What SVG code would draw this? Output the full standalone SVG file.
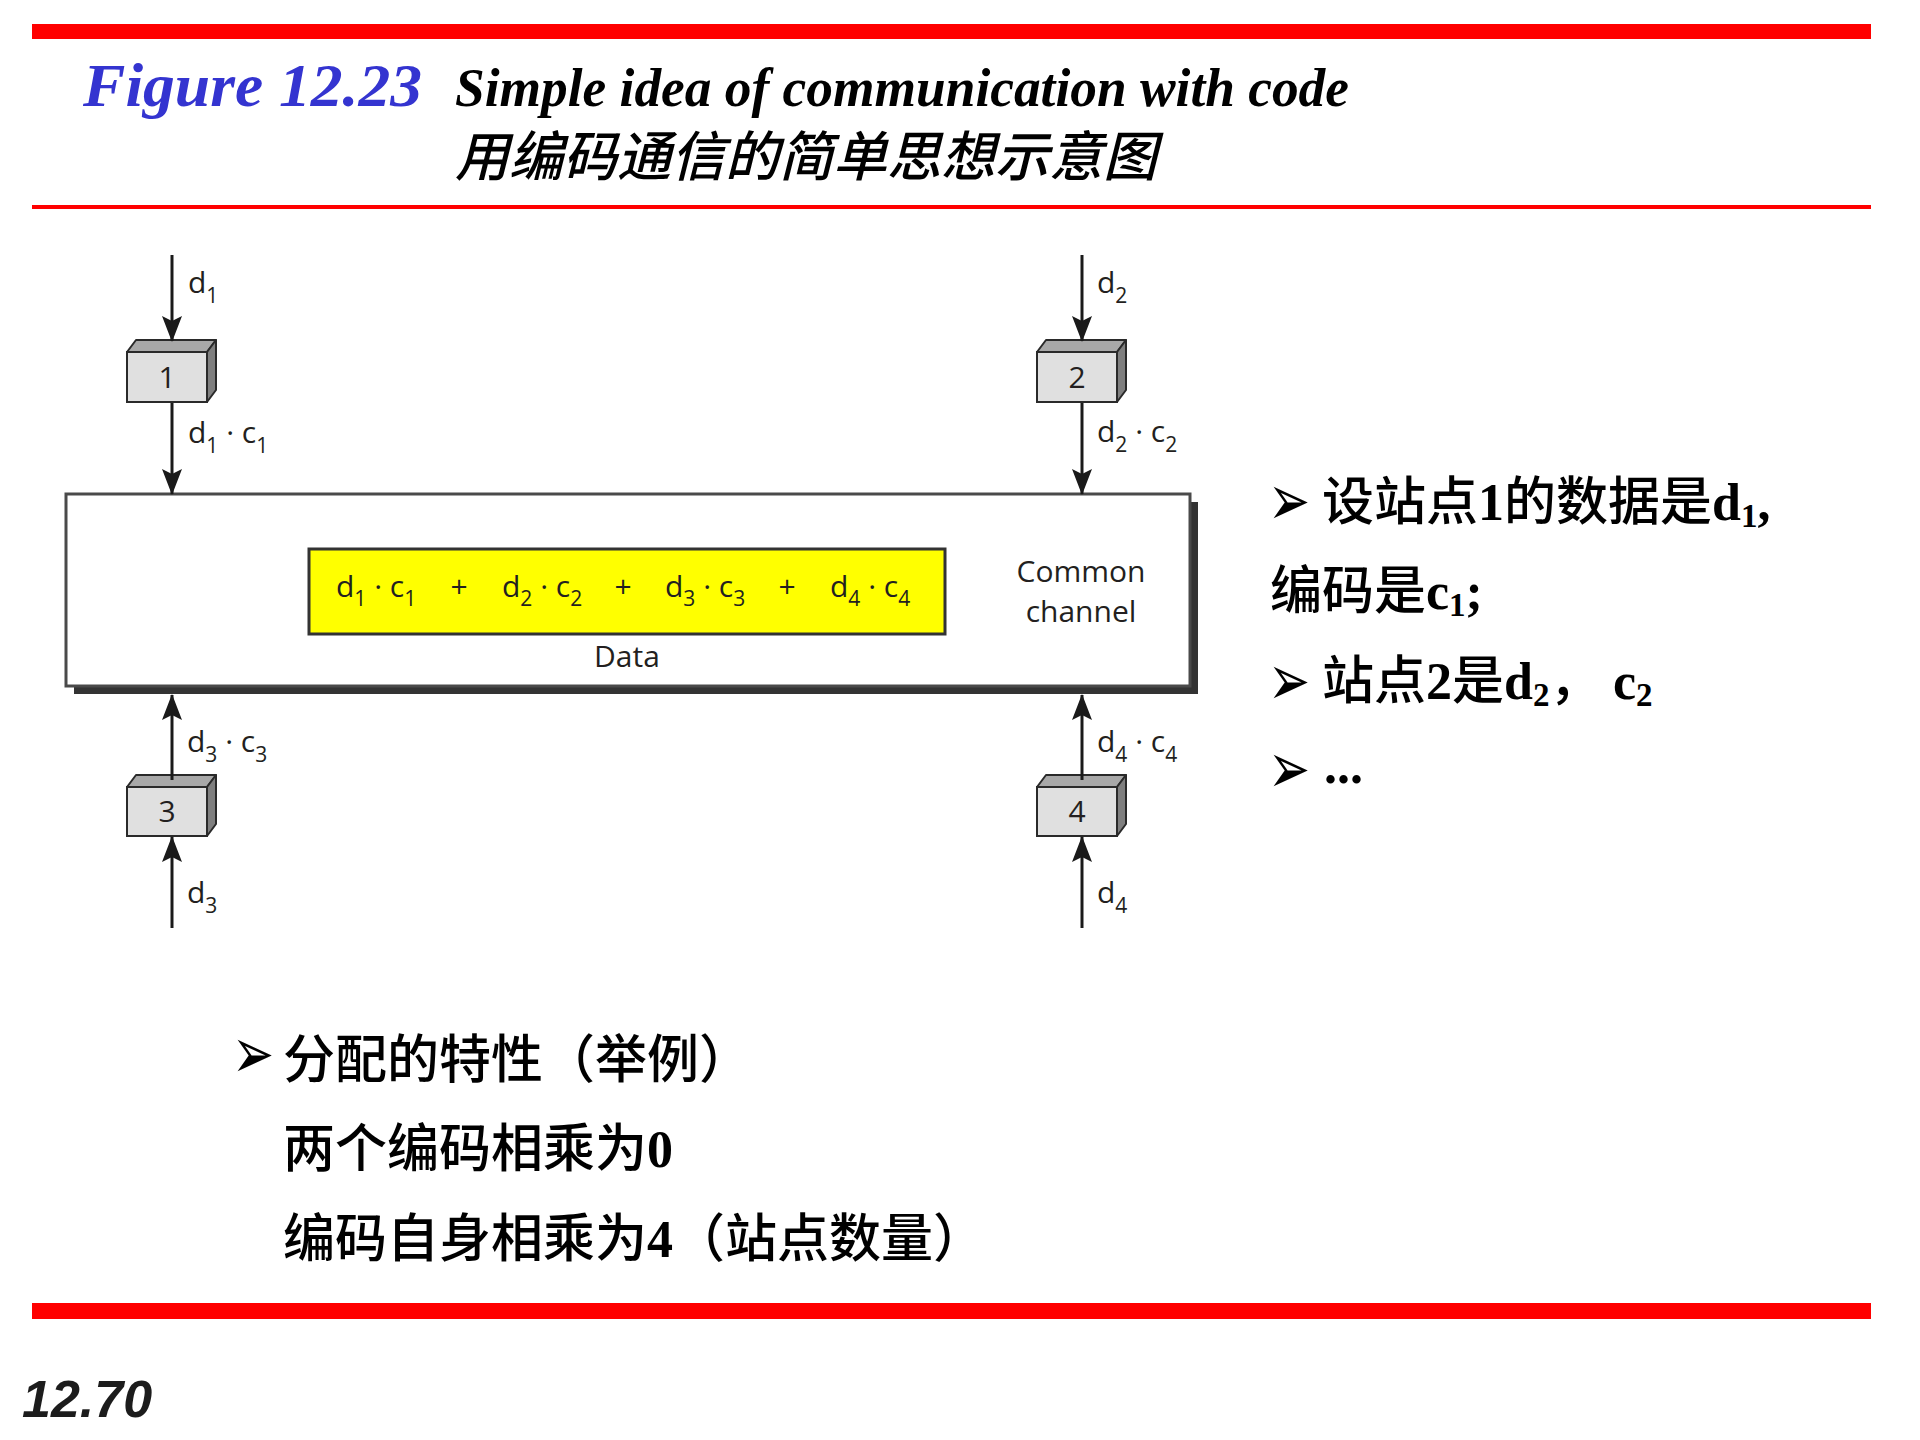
<svg xmlns="http://www.w3.org/2000/svg" width="1920" height="1440" viewBox="0 0 1920 1440">
  <style>
    .rule { fill: #ff0000; }
    .fig { font-family: "Liberation Serif", serif; font-weight: bold; font-style: italic; }
    .cap { font-family: "Noto Sans CJK SC", sans-serif; font-style: italic; font-weight: 500; }
    .lbl { font-family: "Open Sans", "DejaVu Sans", sans-serif; font-size: 30px; fill: #231f20; }
    .sub { font-size: 21px; }
    .num { font-family: "Open Sans", "DejaVu Sans", sans-serif; font-size: 30px; fill: #231f20; text-anchor: middle; }
    .front { fill: #e0e0e0; stroke: #2a2a2a; stroke-width: 2; }
    .top { fill: #a8a8a8; stroke: #2a2a2a; stroke-width: 2; stroke-linejoin: round; }
    .side { fill: #7f7f7f; stroke: #2a2a2a; stroke-width: 2; stroke-linejoin: round; }
    .wire { stroke: #1a1a1a; stroke-width: 3; fill: none; marker-end: url(#arr); }
    .zh { font-family: "Noto Sans CJK SC", sans-serif; font-size: 52px; font-weight: 500; fill: #000; }
    .lat { font-family: "Liberation Serif", serif; font-weight: bold; }
    .zsub { font-size: 33px; }
    .bul { font-family: "DejaVu Sans", sans-serif; font-size: 48px; fill: #000; }
  </style>
  <defs>
    <marker id="arr" markerUnits="userSpaceOnUse" markerWidth="26" markerHeight="22" viewBox="0 0 26 22" refX="25" refY="11" orient="auto">
      <path d="M0,1 L26,11 L0,21 L5,11 z" fill="#1a1a1a"/>
    </marker>
  </defs>

  <rect width="1920" height="1440" fill="#ffffff"/>

  <!-- header rules and caption -->
  <rect class="rule" x="32" y="24" width="1839" height="15"/>
  <rect class="rule" x="32" y="205" width="1839" height="4"/>
  <text class="fig" x="83" y="106" font-size="62" fill="#3434d0" textLength="339" lengthAdjust="spacingAndGlyphs">Figure 12.23</text>
  <text class="fig" x="455" y="106" font-size="54" fill="#000" textLength="894" lengthAdjust="spacingAndGlyphs">Simple idea of communication with code</text>
  <text class="cap" x="455" y="176" font-size="54" fill="#000">用编码通信的简单思想示意图</text>

  <!-- common channel -->
  <g id="channel">
    <rect x="74" y="502" width="1124" height="192" fill="#333333"/>
    <rect x="66" y="494" width="1124" height="192" fill="#ffffff" stroke="#4a4a4a" stroke-width="3"/>
    <rect x="309" y="549" width="636" height="85" fill="#ffff00" stroke="#333333" stroke-width="3"/>
    <text class="lbl" y="597">
      <tspan x="336">d</tspan><tspan class="sub" dy="9">1</tspan><tspan dy="-9"> · c</tspan><tspan class="sub" dy="9">1</tspan>
    </text>
    <text class="lbl" y="597">
      <tspan x="502">d</tspan><tspan class="sub" dy="9">2</tspan><tspan dy="-9"> · c</tspan><tspan class="sub" dy="9">2</tspan>
    </text>
    <text class="lbl" y="597">
      <tspan x="665">d</tspan><tspan class="sub" dy="9">3</tspan><tspan dy="-9"> · c</tspan><tspan class="sub" dy="9">3</tspan>
    </text>
    <text class="lbl" y="597">
      <tspan x="830">d</tspan><tspan class="sub" dy="9">4</tspan><tspan dy="-9"> · c</tspan><tspan class="sub" dy="9">4</tspan>
    </text>
    <text class="lbl" x="459" y="597" text-anchor="middle">+</text>
    <text class="lbl" x="623" y="597" text-anchor="middle">+</text>
    <text class="lbl" x="787" y="597" text-anchor="middle">+</text>
    <text class="lbl" x="627" y="667" text-anchor="middle">Data</text>
    <text class="lbl" text-anchor="middle"><tspan x="1081" y="582">Common</tspan><tspan x="1081" y="622">channel</tspan></text>
  </g>

  <!-- stations -->
  <g id="station1">
    <polygon class="top" points="127,352 136,340 216,340 207,352"/>
    <polygon class="side" points="207,352 216,340 216,390 207,402"/>
    <rect class="front" x="127" y="352" width="80" height="50"/>
    <text class="num" x="167" y="388">1</text>
  </g>
  <g id="station2">
    <polygon class="top" points="1037,352 1046,340 1126,340 1117,352"/>
    <polygon class="side" points="1117,352 1126,340 1126,390 1117,402"/>
    <rect class="front" x="1037" y="352" width="80" height="50"/>
    <text class="num" x="1077" y="388">2</text>
  </g>
  <g id="station3">
    <polygon class="top" points="127,787 136,775 216,775 207,787"/>
    <polygon class="side" points="207,787 216,775 216,824 207,836"/>
    <rect class="front" x="127" y="787" width="80" height="49"/>
    <text class="num" x="167" y="822">3</text>
  </g>
  <g id="station4">
    <polygon class="top" points="1037,787 1046,775 1126,775 1117,787"/>
    <polygon class="side" points="1117,787 1126,775 1126,824 1117,836"/>
    <rect class="front" x="1037" y="787" width="80" height="49"/>
    <text class="num" x="1077" y="822">4</text>
  </g>

  <!-- connectors -->
  <g id="connectors">
    <path class="wire" d="M172,255 V341"/>
    <path class="wire" d="M172,403 V494"/>
    <path class="wire" d="M1082,255 V341"/>
    <path class="wire" d="M1082,403 V494"/>
    <path class="wire" d="M172,780 V695"/>
    <path class="wire" d="M172,928 V837"/>
    <path class="wire" d="M1082,780 V695"/>
    <path class="wire" d="M1082,928 V837"/>
  </g>

  <!-- connector labels -->
  <g id="labels">
    <text class="lbl" y="293"><tspan x="188">d</tspan><tspan class="sub" dy="10">1</tspan></text>
    <text class="lbl" y="443"><tspan x="188">d</tspan><tspan class="sub" dy="10">1</tspan><tspan dy="-10"> · c</tspan><tspan class="sub" dy="10">1</tspan></text>
    <text class="lbl" y="293"><tspan x="1097">d</tspan><tspan class="sub" dy="10">2</tspan></text>
    <text class="lbl" y="442"><tspan x="1097">d</tspan><tspan class="sub" dy="10">2</tspan><tspan dy="-10"> · c</tspan><tspan class="sub" dy="10">2</tspan></text>
    <text class="lbl" y="752"><tspan x="187">d</tspan><tspan class="sub" dy="10">3</tspan><tspan dy="-10"> · c</tspan><tspan class="sub" dy="10">3</tspan></text>
    <text class="lbl" y="903"><tspan x="187">d</tspan><tspan class="sub" dy="10">3</tspan></text>
    <text class="lbl" y="752"><tspan x="1097">d</tspan><tspan class="sub" dy="10">4</tspan><tspan dy="-10"> · c</tspan><tspan class="sub" dy="10">4</tspan></text>
    <text class="lbl" y="903"><tspan x="1097">d</tspan><tspan class="sub" dy="10">4</tspan></text>
  </g>

  <!-- notes on the right; bullets stretched upright -->
  <g id="notes-right">
    <text class="bul" transform="translate(1268,525) scale(1.05,1.5)">➢</text>
    <text class="zh" y="520"><tspan x="1322">设站点</tspan><tspan class="lat">1</tspan><tspan>的数据是</tspan><tspan class="lat">d</tspan><tspan class="lat zsub" dy="7">1</tspan><tspan class="lat" dy="-7">,</tspan></text>
    <text class="zh" y="609"><tspan x="1270">编码是</tspan><tspan class="lat">c</tspan><tspan class="lat zsub" dy="7">1</tspan><tspan class="lat" dy="-7">;</tspan></text>
    <text class="bul" transform="translate(1268,705) scale(1.05,1.5)">➢</text>
    <text class="zh" y="699"><tspan x="1322">站点</tspan><tspan class="lat">2</tspan><tspan>是</tspan><tspan class="lat">d</tspan><tspan class="lat zsub" dy="7">2</tspan><tspan dy="-7">，</tspan><tspan class="lat" x="1613">c</tspan><tspan class="lat zsub" dy="7">2</tspan></text>
    <text class="bul" transform="translate(1268,793) scale(1.05,1.5)">➢</text>
    <text class="zh" y="783"><tspan class="lat" x="1324">...</tspan></text>
  </g>

  <!-- notes below -->
  <g id="notes-bottom">
    <text class="bul" transform="translate(232,1078) scale(1.05,1.5)">➢</text>
    <text class="zh" x="283" y="1078">分配的特性（举例）</text>
    <text class="zh" y="1167"><tspan x="283">两个编码相乘为</tspan><tspan class="lat">0</tspan></text>
    <text class="zh" y="1257"><tspan x="283">编码自身相乘为</tspan><tspan class="lat">4</tspan><tspan>（站点数量）</tspan></text>
  </g>

  <!-- footer -->
  <rect class="rule" x="32" y="1303" width="1839" height="16"/>
  <text x="22" y="1417" font-family="Liberation Sans, sans-serif" font-weight="bold" font-style="italic" font-size="52" fill="#1c1c1c">12.70</text>
</svg>
